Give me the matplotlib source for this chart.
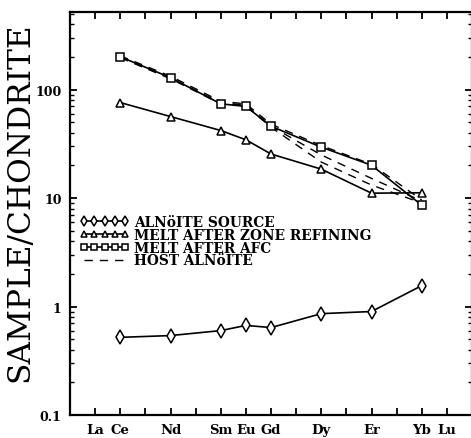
import matplotlib
matplotlib.use("Agg")
import matplotlib.pyplot as plt
from matplotlib.ticker import LogLocator, NullFormatter

plt.rcParams['font.family'] = ['DejaVu Serif']

# Element atomic numbers (x positions) and labels
elements = ["Ce", "Nd", "Sm", "Eu", "Gd", "Dy", "Er", "Yb"]
atomic_numbers = [58, 60, 62, 63, 64, 66, 68, 70]

tick_numbers = [57, 58, 60, 62, 63, 64, 66, 68, 70, 71]
tick_labels = ["La", "Ce", "Nd", "Sm", "Eu", "Gd", "Dy", "Er", "Yb", "Lu"]

alnoite_source = [0.52, 0.54, 0.60, 0.67, 0.64, 0.86, 0.90, 1.56]
melt_zone_refining = [76, 56.5, 42, 34.5, 25.5, 18.5, 11.1, 11.2]
melt_afc = [201, 129, 74, 70, 46, 29.5, 20.1, 8.6]

host_1 = [205, 133, 78, 74, 48, 30.5, 20.5, 9.6]
host_2 = [200, 128, 76, 72, 46, 25, 15.2, 9.4]
host_3 = [197, 126, 74, 71, 45, 21.5, 13.2, 9.0]

fig = plt.figure(figsize=(4.71, 4.39), dpi=100)
ax = fig.add_axes([70/471, 23/439, 402/471, 403/439])

lw = 1.2
ax.plot(atomic_numbers, alnoite_source, color='black', lw=lw, marker='d',
        ms=7, mfc='white', mec='black', mew=1.1, label="ALNöITE SOURCE", zorder=3)
ax.plot(atomic_numbers, melt_zone_refining, color='black', lw=lw, marker='^',
        ms=6, mfc='white', mec='black', mew=1.1, label="MELT AFTER ZONE REFINING", zorder=3)
ax.plot(atomic_numbers, melt_afc, color='black', lw=lw, marker='s',
        ms=5.5, mfc='white', mec='black', mew=1.1, label="MELT AFTER AFC", zorder=3)
first = True
for h in (host_1, host_2, host_3):
    ax.plot(atomic_numbers, h, color='black', lw=1.0, ls=(0, (6, 5)),
            label="HOST ALNöITE" if first else None, zorder=2)
    first = False

ax.set_yscale('log')
ax.set_ylim(0.1, 520)
ax.set_xlim(56, 72)

ax.set_xticks(list(range(57, 72)))
labels_all = []
for n in range(57, 72):
    labels_all.append(tick_labels[tick_numbers.index(n)] if n in tick_numbers else "")
ax.set_xticklabels(labels_all, fontsize=9.5, fontweight='bold')

ax.yaxis.set_minor_locator(LogLocator(base=10, subs=range(2, 10), numticks=10))
ax.yaxis.set_minor_formatter(NullFormatter())
ax.set_yticks([0.1, 1, 10, 100])
ax.set_yticklabels(["0.1", "1", "10", "100"], fontsize=9, fontweight='bold')

ax.tick_params(axis='both', which='major', direction='in', length=5, width=1.3,
               top=True, right=True, pad=6)
ax.tick_params(axis='y', which='minor', direction='in', length=3, width=1.0,
               right=True, left=True)
ax.tick_params(axis='x', which='minor', bottom=False, top=False)

for s in ax.spines.values():
    s.set_linewidth(1.6)

leg = ax.legend(loc='upper left', bbox_to_anchor=(0.025, 0.497), frameon=False,
                numpoints=5, handlelength=3.6, handletextpad=0.3,
                labelspacing=-0.08, borderaxespad=0, borderpad=0,
                prop={'family': 'DejaVu Serif', 'weight': 'bold', 'size': 9.9})
for lh in leg.legend_handles:
    lh.set_markersize(5)

fig.text(20/471, 1 - 202/439, "SAMPLE/CHONDRITE", rotation=90, fontsize=22.5,
         ha='center', va='center', family='DejaVu Serif')

fig.savefig("out.png", dpi=100)
